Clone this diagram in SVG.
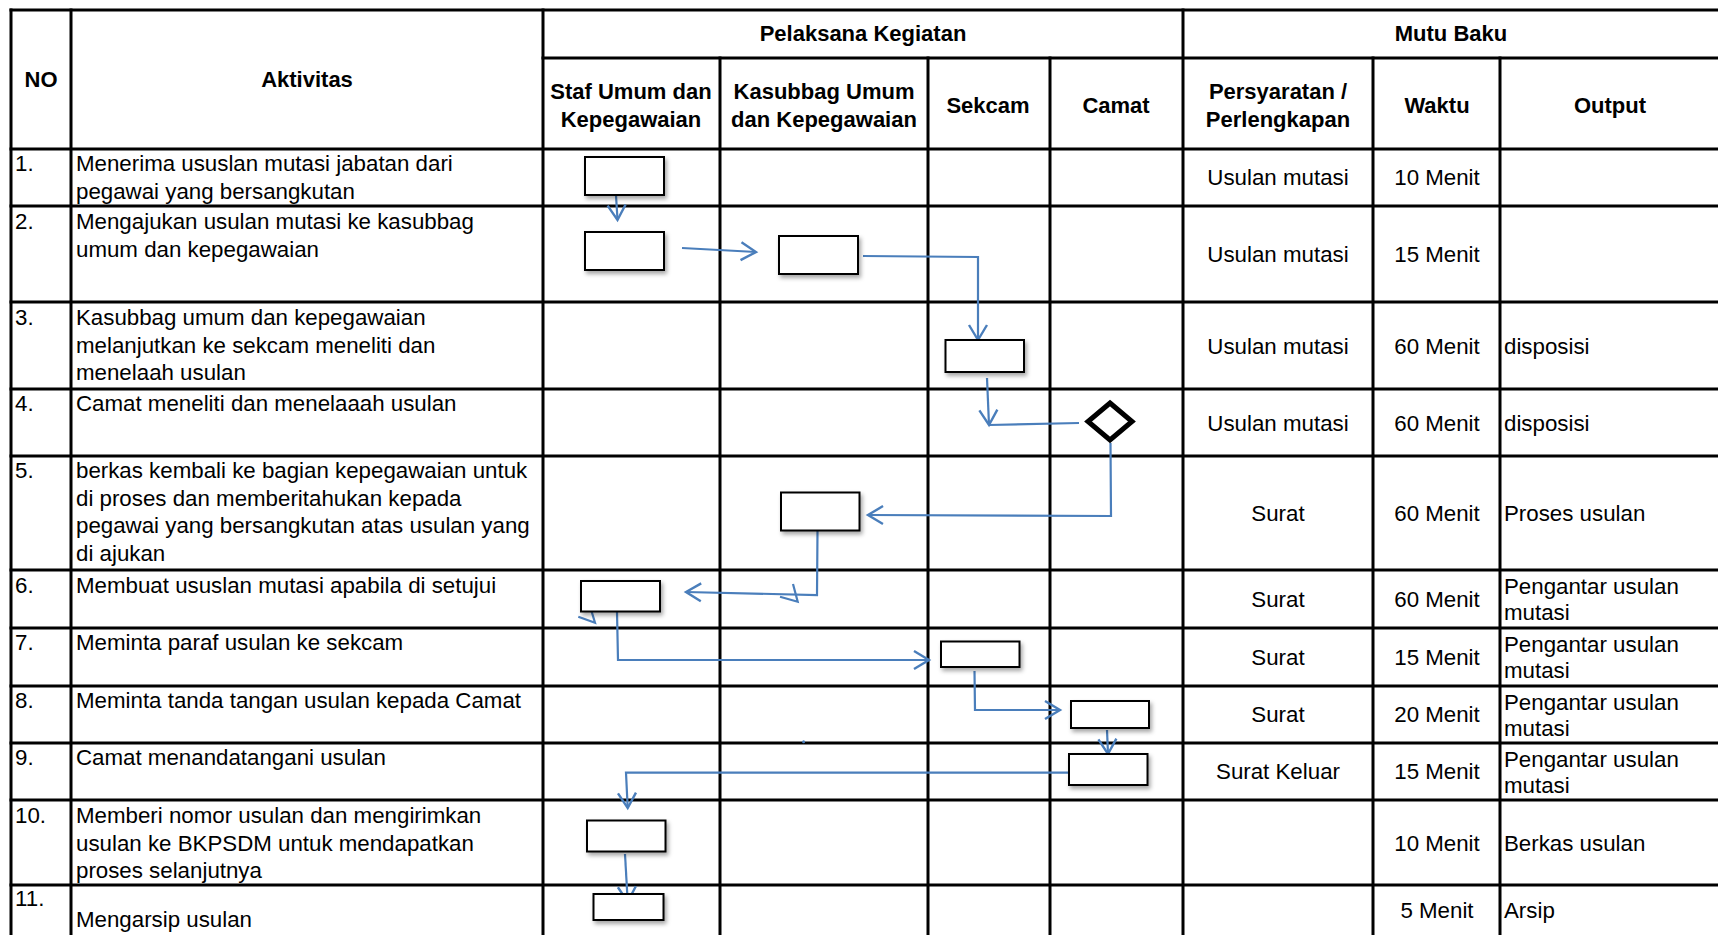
<svg xmlns="http://www.w3.org/2000/svg" width="1718" height="935" viewBox="0 0 1718 935">
<style>
.grid line{stroke:#000;stroke-width:3;stroke-linecap:square}
text{font-family:"Liberation Sans",Arial,sans-serif;font-size:22.3px;fill:#000}
.h{font-weight:bold;text-anchor:middle;font-size:22px}
.c{text-anchor:middle}
.box{fill:#fff;stroke:#000;stroke-width:2;filter:url(#sh)}
.conn path{fill:none;stroke:#4A7EBB;stroke-width:2.2}
.arr{marker-end:url(#ah)}
</style>
<defs>
<filter id="sh" x="-20%" y="-20%" width="150%" height="160%">
<feDropShadow dx="2" dy="3" stdDeviation="2" flood-color="#000" flood-opacity="0.35"/>
</filter>
<marker id="ah" markerUnits="userSpaceOnUse" markerWidth="22" markerHeight="22" refX="17" refY="11" orient="auto">
<path d="M2,2 L17,11 L2,20" fill="none" stroke="#4A7EBB" stroke-width="2.4"/>
</marker>
</defs>
<rect width="1718" height="935" fill="#fff"/>
<g class="grid">
<line x1="11" y1="10" x2="1718" y2="10"/>
<line x1="543" y1="58" x2="1718" y2="58"/>
<line x1="11" y1="149" x2="1718" y2="149"/>
<line x1="11" y1="206" x2="1718" y2="206"/>
<line x1="11" y1="302" x2="1718" y2="302"/>
<line x1="11" y1="389" x2="1718" y2="389"/>
<line x1="11" y1="456" x2="1718" y2="456"/>
<line x1="11" y1="570" x2="1718" y2="570"/>
<line x1="11" y1="628" x2="1718" y2="628"/>
<line x1="11" y1="686" x2="1718" y2="686"/>
<line x1="11" y1="743" x2="1718" y2="743"/>
<line x1="11" y1="800" x2="1718" y2="800"/>
<line x1="11" y1="885" x2="1718" y2="885"/>
<line x1="11" y1="10" x2="11" y2="940"/>
<line x1="71" y1="10" x2="71" y2="940"/>
<line x1="543" y1="10" x2="543" y2="940"/>
<line x1="720" y1="58" x2="720" y2="940"/>
<line x1="928" y1="58" x2="928" y2="940"/>
<line x1="1050" y1="58" x2="1050" y2="940"/>
<line x1="1183" y1="10" x2="1183" y2="940"/>
<line x1="1373" y1="58" x2="1373" y2="940"/>
<line x1="1500" y1="58" x2="1500" y2="940"/>
</g>
<g id="header">
<text class="h" x="41" y="87">NO</text>
<text class="h" x="307" y="87">Aktivitas</text>
<text class="h" x="863" y="41">Pelaksana Kegiatan</text>
<text class="h" x="1451" y="41">Mutu Baku</text>
<text class="h" x="631" y="99">Staf Umum dan</text>
<text class="h" x="631" y="127">Kepegawaian</text>
<text class="h" x="824" y="99">Kasubbag Umum</text>
<text class="h" x="824" y="127">dan Kepegawaian</text>
<text class="h" x="988" y="113">Sekcam</text>
<text class="h" x="1116" y="113">Camat</text>
<text class="h" x="1278" y="99">Persyaratan /</text>
<text class="h" x="1278" y="127">Perlengkapan</text>
<text class="h" x="1437" y="113">Waktu</text>
<text class="h" x="1610" y="113">Output</text>
</g>
<g id="rows">
<text x="15" y="171">1.</text>
<text x="76" y="171">Menerima ususlan mutasi jabatan dari</text>
<text x="76" y="198.5">pegawai yang bersangkutan</text>
<text class="c" x="1278" y="185">Usulan mutasi</text>
<text class="c" x="1437" y="185">10 Menit</text>

<text x="15" y="229">2.</text>
<text x="76" y="229">Mengajukan usulan mutasi ke kasubbag</text>
<text x="76" y="256.5">umum dan kepegawaian</text>
<text class="c" x="1278" y="262">Usulan mutasi</text>
<text class="c" x="1437" y="262">15 Menit</text>

<text x="15" y="325">3.</text>
<text x="76" y="325">Kasubbag umum dan kepegawaian</text>
<text x="76" y="352.5">melanjutkan ke sekcam meneliti dan</text>
<text x="76" y="380">menelaah usulan</text>
<text class="c" x="1278" y="354">Usulan mutasi</text>
<text class="c" x="1437" y="354">60 Menit</text>
<text x="1504" y="354">disposisi</text>

<text x="15" y="411">4.</text>
<text x="76" y="411">Camat meneliti dan menelaaah usulan</text>
<text class="c" x="1278" y="431">Usulan mutasi</text>
<text class="c" x="1437" y="431">60 Menit</text>
<text x="1504" y="431">disposisi</text>

<text x="15" y="478">5.</text>
<text x="76" y="478">berkas kembali ke bagian kepegawaian untuk</text>
<text x="76" y="505.5">di proses dan memberitahukan kepada</text>
<text x="76" y="533">pegawai yang bersangkutan atas usulan yang</text>
<text x="76" y="560.5">di ajukan</text>
<text class="c" x="1278" y="521">Surat</text>
<text class="c" x="1437" y="521">60 Menit</text>
<text x="1504" y="521">Proses usulan</text>

<text x="15" y="593">6.</text>
<text x="76" y="593">Membuat ususlan mutasi apabila di setujui</text>
<text class="c" x="1278" y="607">Surat</text>
<text class="c" x="1437" y="607">60 Menit</text>
<text x="1504" y="594">Pengantar usulan</text>
<text x="1504" y="620">mutasi</text>

<text x="15" y="650">7.</text>
<text x="76" y="650">Meminta paraf usulan ke sekcam</text>
<text class="c" x="1278" y="665">Surat</text>
<text class="c" x="1437" y="665">15 Menit</text>
<text x="1504" y="652">Pengantar usulan</text>
<text x="1504" y="678">mutasi</text>

<text x="15" y="708">8.</text>
<text x="76" y="708">Meminta tanda tangan usulan kepada Camat</text>
<text class="c" x="1278" y="722">Surat</text>
<text class="c" x="1437" y="722">20 Menit</text>
<text x="1504" y="710">Pengantar usulan</text>
<text x="1504" y="736">mutasi</text>

<text x="15" y="765">9.</text>
<text x="76" y="765">Camat menandatangani usulan</text>
<text class="c" x="1278" y="779">Surat Keluar</text>
<text class="c" x="1437" y="779">15 Menit</text>
<text x="1504" y="767">Pengantar usulan</text>
<text x="1504" y="793">mutasi</text>

<text x="15" y="823">10.</text>
<text x="76" y="823">Memberi nomor usulan dan mengirimkan</text>
<text x="76" y="850.5">usulan ke BKPSDM untuk mendapatkan</text>
<text x="76" y="878">proses selanjutnya</text>
<text class="c" x="1437" y="850.5">10 Menit</text>
<text x="1504" y="850.5">Berkas usulan</text>

<text x="15" y="906">11.</text>
<text x="76" y="927">Mengarsip usulan</text>
<text class="c" x="1437" y="918">5 Menit</text>
<text x="1504" y="918">Arsip</text>
</g>
<g id="conn" class="conn">
<path class="arr" d="M616,195 L617.5,220"/>
<path class="arr" d="M682,248 L756,252"/>
<path class="arr" d="M863,256 L978,257 L978,340"/>
<path class="arr" d="M987,378 L989,425"/>
<path d="M989,425 L1079,423"/>
<path class="arr" d="M1110.5,443 L1111,516 L868,515"/>
<path class="arr" d="M817.5,531 L817,595 L686,592"/>
<path d="M793,584 L797.7,601.7 L780,596.7"/>
<path d="M578.3,616.7 L595,622.7 L591.7,611.7"/>
<path class="arr" d="M617,612 L618,660 L929,660"/>
<path class="arr" d="M974.5,671 L975,710 L1060,710"/>
<path class="arr" d="M1107,730 L1108,754"/>
<path class="arr" d="M1069,772.7 L626,772.7 L627.7,808"/>
<path class="arr" d="M625,854 L627.7,901.7"/>
<circle cx="803.6" cy="741.7" r="1.5" fill="#4A7EBB"/>
</g>
<g id="n1"><rect class="box" x="585" y="157" width="79" height="38"/></g>
<g id="n2"><rect class="box" x="585" y="232" width="79" height="38"/></g>
<g id="n3"><rect class="box" x="779" y="236" width="79" height="38"/></g>
<g id="n4"><rect class="box" x="945.5" y="340" width="78.5" height="32"/></g>
<g id="n5"><polygon points="1110,403 1132,421.5 1110,440 1088,421.5" fill="#fff" stroke="#000" stroke-width="5" stroke-linejoin="miter"/></g>
<g id="n6"><rect class="box" x="781" y="492.5" width="78.5" height="38"/></g>
<g id="n7"><rect class="box" x="581" y="581" width="79" height="30.5"/></g>
<g id="n8"><rect class="box" x="941" y="641.5" width="78.5" height="25.5"/></g>
<g id="n9"><rect class="box" x="1071" y="701" width="78" height="27"/></g>
<g id="n10"><rect class="box" x="1069" y="754" width="78.5" height="31"/></g>
<g id="n11"><rect class="box" x="587" y="820.5" width="78.5" height="31"/></g>
<g id="n12"><rect class="box" x="593.5" y="894" width="70" height="26"/></g>
</svg>
